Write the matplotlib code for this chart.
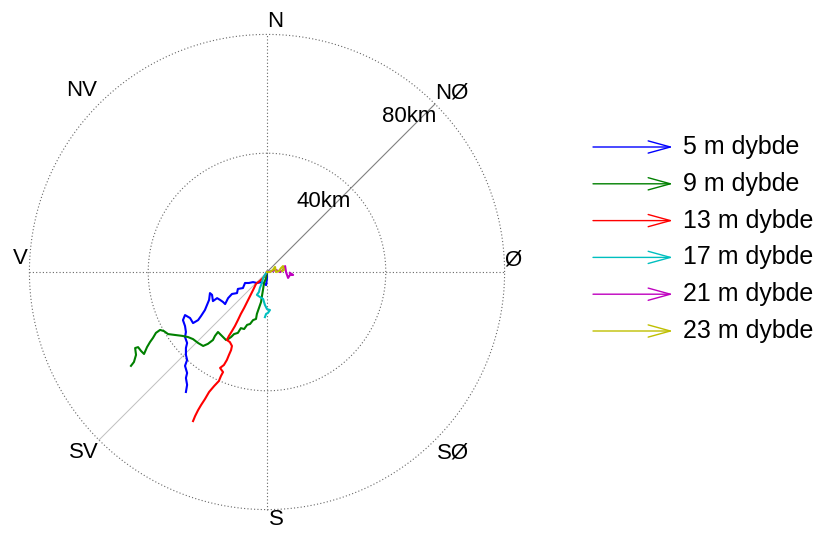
import numpy as np
import matplotlib
matplotlib.use("Agg")
import matplotlib.pyplot as plt

plt.rcParams['font.family'] = ['Liberation Sans', 'DejaVu Sans']

# Progressiv vektor: kumulativ forflytning (km øst, km nord) per dybde
dybder = ["5 m dybde", "9 m dybde", "13 m dybde", "17 m dybde", "21 m dybde", "23 m dybde"]
farger = ["#0000ff", "#008000", "#ff0000", "#00bfbf", "#bf00bf", "#bfbf00"]

x_5m = [0, 0, -0.3, -1.7, -3.4, -4.7, -6.1, -7.4, -8.1, -9.8, -10.1, -11.8, -13.1, -14.1, -14.8,
        -15.8, -16.8, -18.2, -18.5, -19.2, -19.5, -20.2, -20.9, -22.2, -23.2, -24.9, -25.9, -27.6,
        -28.3, -27.6, -27.3, -27.6, -26.9, -27.3, -27.3, -26.9, -27.6, -26.9, -27.3, -26.9, -27.3]
y_5m = [0, -2.0, -4.4, -3.4, -3.7, -3.4, -3.7, -3.7, -5.4, -5.7, -7.1, -7.4, -8.8, -10.8, -10.1,
        -9.4, -8.8, -9.8, -7.7, -7.1, -9.4, -11.1, -12.8, -14.8, -16.2, -17.2, -15.5, -14.5,
        -16.2, -18.2, -20.2, -21.9, -23.9, -25.6, -27.9, -29.6, -31.6, -34.0, -35.7, -38.0, -40.4]

x_9m = [0, -0.3, -1.0, -1.3, -1.7, -2.0, -2.7, -3.4, -3.7, -4.7, -5.7, -6.7, -7.7, -8.8, -9.8,
        -11.1, -12.1, -13.1, -13.8, -14.8, -15.8, -16.5, -17.5, -18.2, -19.9, -21.5, -23.2, -24.9,
        -26.6, -28.6, -31.0, -33.3, -34.7, -36.0, -37.4, -38.4, -39.4, -40.4, -41.4, -42.4, -43.4,
        -44.4, -44.1, -44.8, -45.8]
y_9m = [0, -2.0, -3.7, -5.7, -8.1, -10.1, -12.1, -14.1, -15.8, -16.2, -17.5, -17.8, -19.2, -18.9,
        -20.5, -20.9, -21.9, -22.6, -22.9, -21.9, -20.9, -20.2, -21.5, -22.9, -24.2, -24.9, -23.9,
        -22.6, -21.9, -21.5, -21.2, -20.9, -19.9, -19.5, -20.5, -22.2, -23.6, -25.3, -27.6, -26.6,
        -25.3, -25.6, -27.9, -30.3, -31.6]

x_13m = [0, -1.0, -2.4, -3.7, -4.7, -5.7, -6.7, -7.7, -8.8, -9.8, -10.8, -11.8, -12.8, -13.5,
         -12.5, -11.8, -12.1, -12.8, -13.5, -14.5, -15.8, -14.8, -15.5, -16.2, -17.8, -19.5,
         -20.9, -22.2, -23.2, -24.2, -24.9]
y_13m = [0, -1.7, -3.0, -4.0, -6.1, -8.1, -10.1, -12.1, -14.1, -16.2, -18.2, -19.9, -21.5, -22.9,
         -23.6, -24.9, -26.3, -27.9, -29.6, -31.3, -32.3, -33.7, -35.0, -36.7, -38.4, -40.4,
         -42.8, -44.8, -46.5, -48.5, -50.2]

x_17m = [0, -0.7, -1.3, -1.7, -2.4, -2.7, -3.4, -2.4, -1.3, -0.7, 0, 1.0, 0.3, -0.3, -0.7]
y_17m = [0, -1.0, -2.0, -3.7, -5.4, -6.7, -7.7, -8.4, -9.1, -11.1, -12.5, -12.8, -13.8, -14.1, -15.2]

x_21m = [0, 1.7, 3.0, 4.4, 5.4, 6.1, 6.4, 7.1, 7.7, 8.8, 7.7]
y_21m = [0, 0.3, 0.7, 0, 0.7, 2.0, 0, -2.0, -1.0, -1.0, -0.3]

x_23m = [0, 1.0, 2.0, 2.7, 3.0, 4.0, 4.7, 5.4, 5.7, 5.1]
y_23m = [0, 0, 0.7, 1.7, 0, 0.3, 1.3, 2.0, 0.7, 0.3]

spor_x = [x_5m, x_9m, x_13m, x_17m, x_21m, x_23m]
spor_y = [y_5m, y_9m, y_13m, y_17m, y_21m, y_23m]

# Kompass
ringer = [40, 80]
rmax = 80
retninger = ["N", "NØ", "Ø", "SØ", "S", "SV", "V", "NV"]
retning_pos = [(2.7, 84.5), (62.2, 60.4), (82.8, 4.0), (62.8, -60.9),
               (3.0, -83.5), (-61.6, -60.9), (-83.2, 4.4), (-62.4, 61.1)]

fig = plt.figure(figsize=(8.24, 5.34), dpi=100)
ax = fig.add_axes([0, 0, 534 / 824, 1])
ax.set_xlim(-267 / 2.97, 267 / 2.97)
ax.set_ylim(-262 / 2.97, 272 / 2.97)
ax.axis("off")

prikk = dict(color="0.4", lw=0.8, ls=(0, (1, 2)))
t = np.linspace(0, 2 * np.pi, 400)
for r in ringer:
    ax.plot(r * np.cos(t), r * np.sin(t), **prikk)
ax.plot([-rmax, rmax], [0, 0], **prikk)
ax.plot([0, 0], [-rmax, rmax], **prikk)

# Hovedakse SV-NØ
d = rmax / np.sqrt(2)
ax.plot([0, d], [0, d], color="0.5", lw=0.8)
ax.plot([-d, 0], [-d, 0], color="0.75", lw=0.7)

for navn, (px, py) in zip(retninger, retning_pos):
    ax.text(px, py, navn, fontsize=16, ha="center", va="center")
ax.text(19.2, 23.9, "40km", fontsize=16, ha="center", va="center")
ax.text(47.8, 52.2, "80km", fontsize=16, ha="center", va="center")

for xs, ys, c in zip(spor_x, spor_y, farger):
    ax.plot(xs, ys, color=c, lw=1.5)

# Forklaring med piler
for i, (navn, c) in enumerate(zip(dybder, farger)):
    y = 534 - (147 + i * 36.8)
    ax.annotate("", xy=(673, y), xytext=(593, y), xycoords="figure pixels",
                arrowprops=dict(arrowstyle="->, head_length=0.8, head_width=0.22",
                                color=c, lw=1.0, shrinkA=0, shrinkB=0,
                                mutation_scale=20))
    fig.text(683 / 824, y / 534, navn, fontsize=18, ha="left", va="center")

fig.savefig("out.png", dpi=100)
